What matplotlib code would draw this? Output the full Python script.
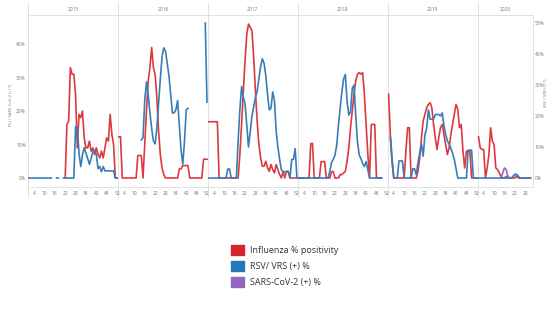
import numpy as np
import matplotlib
matplotlib.use("Agg")
import matplotlib.pyplot as plt
from matplotlib.patches import Patch

N = np.nan

years = [2015, 2016, 2017, 2018, 2019, 2020]
week_ticks = [4, 10, 16, 22, 28, 34, 40, 46, 52]
week_ticks_2020 = [4, 10, 16, 22, 28]

# influenza % positivity (left axis), weekly
flu_2015 = [N, N, N, N, N, N, N, N, N, N, N, N, N, N, N, N, N, N, N, N, N,
            0, 16, 17, 33, 31, 31, 25, 9, 19, 18, 20, 12, 9, 9, 11, 8, 9, 7, 9, 7,
            6, 8, 6, 9, 12, 11, 19, 13, 10, 0, 0]
flu_2016 = [12.3, 12.3, 0, 0, 0, 0, 0, 0, 0, 0, 0, 6.7, 6.7, 6.7,
            0, 10, 20, 29, 33, 39, 33, 31, 24, 14, 7, 3, 1, 0,
            0, 0, 0, 0, 0, 0, 0, 2.7, 2.7, 3.7, 3.7, 3.7, 3.7,
            0, 0, 0, 0, 0, 0, 0, 0, 5.6, 5.6, 5.6]
flu_2017 = [16.8, 16.8, 16.8, 16.8, 16.8, 16.8, 0, 0, 0, 0, 0, 0, 0, 0, 0, 0, 0, 0,
            7, 16, 26, 35, 43, 46, 45, 44, 36, 26, 17, 10, 6, 3.5, 3.5, 5, 3, 2, 4, 2.5,
            1.5, 4, 2.5, 1, 0, 2, 0, 2, 2, 0, 0, 0, 0, 0]
flu_2018 = [0, 0, 0, 0, 0, 0, 0, 10.3, 10.3, 0, 0, 0, 0, 4.9, 4.9, 4.9, 0, 0, 0,
            1.9, 1.9, 0, 0, 0, 1, 1, 1.5, 2, 5, 9, 15, 20, 25, 29, 31, 31.5, 31, 31.5,
            25, 16, 7, 0, 16, 16, 16, 0, 0, 0, 0, N, N, N]
flu_2019 = [25, 13, 6, 0, 0, 0, 0, 0, 0, 0, 8, 15, 15, 0, 0, 0, 0,
            2, 6, 12, 17, 19, 21, 22, 22.5, 21, 16, 12, 8.5, 12, 15, 16, 13, 10, 7, 9,
            13, 16, 19, 22, 20.5, 15, 16, 8, 3, 8, 8, 8, 0, 0, 0, 0]
flu_2020 = [12.3, 9, 8.5, 8.5, 0, 3, 7, 15, 11, 10, 3, 2.5, 1.5, 0.5, 0, 0, 0.5,
            0, 0, 0, 0, 0, 0.5, 0, 0, 0, 0, 0, 0, 0, 0]

# RSV / VRS (+) % (right axis), weekly
rsv_2015 = [0, 0, 0, 0, 0, 0, 0, 0, 0, 0, 0, 0, 0, 0, N, N, 0, 0, N, N,
            0, 0, 0, 0, 0, 0, 0, 16.5, 16.5, 8, 3.7, 7.4, 9.8, 8, 6.3, 4.4, 6.3, 8.5,
            9, 7.6, 3, 3.7, 2, 3.7, 2.3, 2.3, 2.3, 2.3, 2.3, 2.3, 0, 0]
rsv_2016 = [N, N, N, N, N, N, N, N, N, N, N, N, N,
            12.3, 13, 25, 31, 27, 21, 16, 12, 11, 16, 24, 32, 39, 42, 41, 37, 33, 27,
            21, 21, 22, 25, 17, 9, 4.5, 12, 22, 22.5, N, N, N, N, N, N, N, N, N, 50, 24.5]
rsv_2017 = [0, 0, 0, 0, 0, 0, 0, 0, 0, 0, 0, 2.9, 2.9, 0, 0, 0, 0,
            12, 22, 29.5, 26, 24, 17, 10, 15, 20, 23, 26, 28, 32, 36, 38.5, 37, 33, 27,
            22, 22.5, 27.8, 25, 15, 10, 6, 2.6, 2, 2, 2, 2, 0, 6, 6, 9.5, 0]
rsv_2018 = [0, 0, 0, 0, 0, 0, 0, 0, 0, 0, 0, 0, 0, 0, 0, 0, 0, 0,
            2, 5, 6, 7.4, 10.6, 17, 22.5, 27.8, 32, 33.4, 24.6, 20.3, 21.4, 28.9, 30,
            20.3, 11.7, 7.4, 6.3, 4.7, 3.7, 5.3, 2.6, 0, 0, 0, 0, 0, 0, 0, 0, N, N, N]
rsv_2019 = [N, 13, 5, 0, 0, 0, 5.5, 5.5, 5.5, 0, 0, 0, 0, 0,
            3, 3, 1, 5, 8, 11, 7, 14, 16, 22, 19, 19, 19, 20.5, 20.5, 20.5, 20, 21, 17,
            14, 12, 11, 9.5, 8, 6, 3, 0, 0, 0, 0, 0, 0, 9, 9, 9, 0, 0, 0]
rsv_2020 = [0, 0, 0, 0, 0, 0, 0, 0, 0, 0, 0, 0, 0, 0, 0, 0, 0, 0, 0, 0,
            0.5, 1.2, 1.2, 0.5, 0, 0, 0, 0, 0, 0, 0]

# SARS-CoV-2 (+) % (left axis)
sars_2020 = [N, N, N, N, N, N, N, N, N, N, N, N, N,
             0, 1.5, 3, 2.5, 0.5, 0, 0, 0.5, 1, 1, 0.3, 0, 0, 0, 0, 0, 0, 0]

flu = [flu_2015, flu_2016, flu_2017, flu_2018, flu_2019, flu_2020]
rsv = [rsv_2015, rsv_2016, rsv_2017, rsv_2018, rsv_2019, rsv_2020]

red = "#dd3a40"
blue = "#3a7db6"
purple = "#9a68c2"
grid_c = "#e2e2e2"
txt_c = "#777777"

plt.rcParams["font.family"] = ["Open Sans", "DejaVu Sans"]

fig = plt.figure(figsize=(5.47, 3.26), dpi=100)
ax = fig.add_axes([28 / 547, 1 - 187 / 326, 505 / 547, 172 / 326])
ax2 = ax.twinx()

n_weeks_total = 52 * 5 + len(flu_2020)
ax.set_xlim(0.5, n_weeks_total + 1.5)
ax.set_ylim(-2.7, 48.7)
ax2.set_ylim(-2.9, 52.6)

for i, yr in enumerate(years):
    off = i * 52
    w = np.arange(1, len(flu[i]) + 1) + off
    ax.plot(w, flu[i], color=red, lw=1.2, zorder=3)
    ax2.plot(w, rsv[i], color=blue, lw=1.2, zorder=3)
    if yr == 2020:
        ax.plot(w, sars_2020, color=purple, lw=1.2, zorder=4)
    # year header
    end = off + 52 if yr != 2020 else n_weeks_total + 1
    ax.text((off + end + 1) / 2, 1.03, str(yr), transform=ax.get_xaxis_transform(),
            ha="center", va="center", fontsize=3.5, color=txt_c)
    if i > 0:
        ax.axvline(off + 0.5, ymin=-0.06, ymax=1.07, color=grid_c, lw=0.7,
                   clip_on=False, zorder=1)

ax.axvline(0.5, ymin=-0.06, ymax=1.07, color=grid_c, lw=0.7, clip_on=False)

xt, xl = [], []
for i, yr in enumerate(years):
    ticks = week_ticks if yr != 2020 else week_ticks_2020
    for t in ticks:
        xt.append(i * 52 + t)
        xl.append(str(t))
ax.set_xticks(xt)
ax.set_xticklabels(xl)

ax.set_yticks([0, 10, 20, 30, 40])
ax.set_yticklabels(["0%", "10%", "20%", "30%", "40%"])
ax2.set_yticks([0, 10, 20, 30, 40, 50])
ax2.set_yticklabels(["0%", "10%", "20%", "30%", "40%", "50%"])

for a in (ax, ax2):
    a.tick_params(length=0, labelsize=3.5, colors=txt_c)
    for s in a.spines.values():
        s.set_color(grid_c)
        s.set_linewidth(0.7)
ax.tick_params(axis="x", pad=3)
ax.tick_params(axis="y", pad=1.5)
ax2.tick_params(axis="y", pad=1.2)

ax.set_ylabel("Flu / SARS-CoV-2 (+) %", fontsize=3, color=txt_c)
ax.yaxis.set_label_coords(-0.03, 0.48)
ax2.set_ylabel("RSV / VRS (+) %", fontsize=3, color=txt_c)
ax2.yaxis.set_label_coords(1.0215, 0.55)

handles = [Patch(color="#d7262b", label="Influenza % positivity"),
           Patch(color="#2478bb", label="RSV/ VRS (+) %"),
           Patch(color="#9566c0", label="SARS-CoV-2 (+) %")]
fig.legend(handles=handles, loc="upper left", bbox_to_anchor=(230.7 / 547, 1 - 245 / 326),
           frameon=False, fontsize=6.5, handlelength=1.45, handleheight=1.3,
           handletextpad=0.7, labelspacing=0.68, borderpad=0, borderaxespad=0,
           labelcolor="#333333")

fig.savefig("out.png", dpi=100)
